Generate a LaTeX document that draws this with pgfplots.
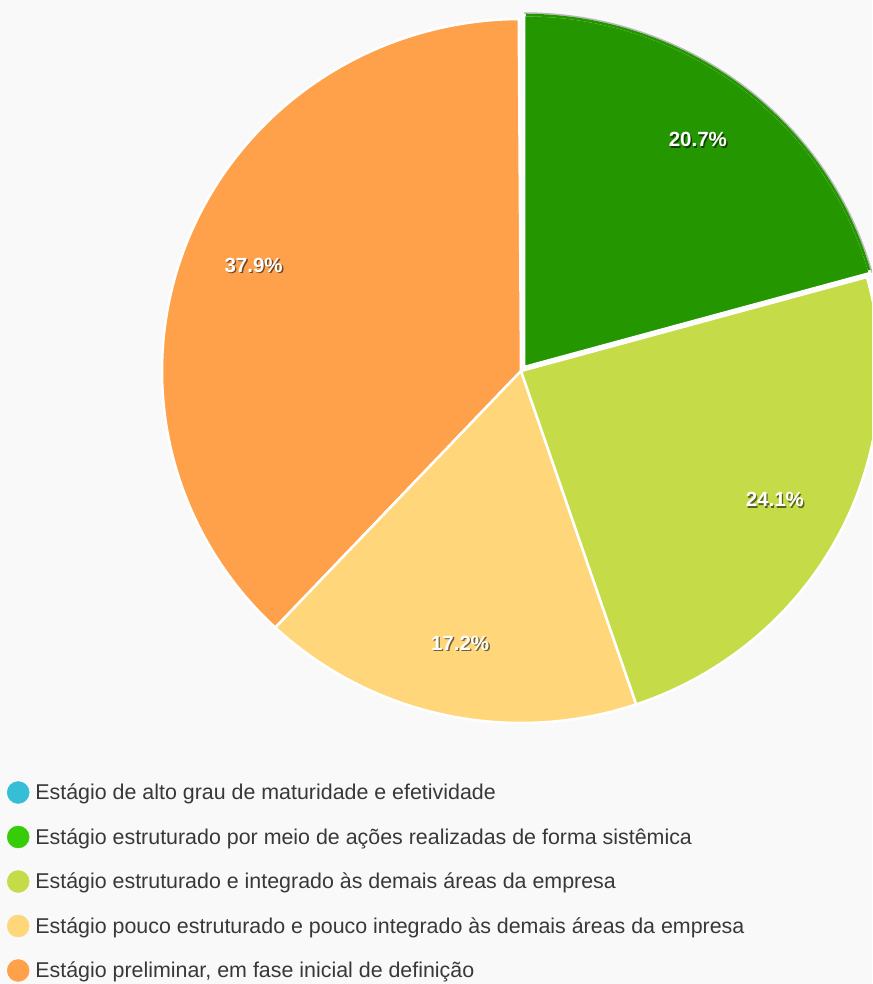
\documentclass[border=0pt]{standalone}
\usepackage{pgfplots}
\usepackage{pgfplotstable}
\pgfplotsset{compat=1.18}
\usepackage{fontspec}
\setmainfont{Liberation Sans}
\definecolor{bg}{HTML}{F9F9F9}
\definecolor{cCyan}{HTML}{35BED6}
\definecolor{cGreen}{HTML}{249600}
\definecolor{cGreenL}{HTML}{36CC08}
\definecolor{cYG}{HTML}{C5DC48}
\definecolor{cYel}{HTML}{FFD67A}
\definecolor{cOra}{HTML}{FFA14B}
\definecolor{txt}{HTML}{383838}
\pgfplotstableread{
idx pct
0 0
1 20.7
2 24.1
3 17.2
4 37.9
}\piedata
\begin{document}
\begin{tikzpicture}
\pgfplotstablegetelem{0}{pct}\of\piedata\let\pA\pgfplotsretval
\pgfplotstablegetelem{1}{pct}\of\piedata\let\pB\pgfplotsretval
\pgfplotstablegetelem{2}{pct}\of\piedata\let\pC\pgfplotsretval
\pgfplotstablegetelem{3}{pct}\of\piedata\let\pD\pgfplotsretval
\pgfplotstablegetelem{4}{pct}\of\piedata\let\pE\pgfplotsretval
\pgfmathsetmacro\aA{90-3.6*\pA}
\pgfmathsetmacro\aB{\aA-3.6*\pB}
\pgfmathsetmacro\aC{\aB-3.6*\pC}
\pgfmathsetmacro\aD{\aC-3.6*\pD}
\pgfmathsetmacro\aE{\aD-3.6*\pE}
\pgfmathsetmacro\mB{(\aA+\aB)/2}
\pgfmathsetmacro\mC{(\aB+\aC)/2}
\pgfmathsetmacro\mD{(\aC+\aD)/2}
\pgfmathsetmacro\mE{(\aD+\aE)/2}
\def\cx{521}\def\cy{613}\def\rx{359}\def\ry{352}
\pgfmathsetmacro\gx{\cx+5*cos(\mB)}
\pgfmathsetmacro\gy{\cy+5*sin(\mB)}
\pgfmathsetmacro\lxB{\gx+0.8*\rx*cos(\mB)}
\pgfmathsetmacro\lyB{\gy+0.8*\ry*sin(\mB)+3}
\pgfmathsetmacro\lxC{\cx+0.8*\rx*cos(\mC)}
\pgfmathsetmacro\lyC{\cy+0.8*\ry*sin(\mC)+3}
\pgfmathsetmacro\lxD{\cx+0.8*\rx*cos(\mD)}
\pgfmathsetmacro\lyD{\cy+0.8*\ry*sin(\mD)+3}
\pgfmathsetmacro\lxE{\cx+0.8*\rx*cos(\mE)}
\pgfmathsetmacro\lyE{\cy+0.8*\ry*sin(\mE)+3}
\useasboundingbox (0,0) rectangle (872pt,984pt);
\fill[bg] (0,0) rectangle (872pt,984pt);
\tikzset{lblS/.style={font=\bfseries\fontsize{20.5}{24}\selectfont,text=black,opacity=0.55},
  lblW/.style={font=\bfseries\fontsize{20.5}{24}\selectfont,text=white}}
\begin{axis}[x=1pt,y=1pt,xmin=0,xmax=872,ymin=0,ymax=984,hide axis,
  at={(0,0)},anchor=south west,
  legend style={at={(axis cs:7,203)},anchor=north west,draw=none,fill=none,
    inner sep=0pt,outer sep=0pt,row sep=19.5pt,column sep=6pt,
    font=\fontsize{21.4}{25}\selectfont,text=txt,
    cells={anchor=base west},
    nodes={inner sep=0pt,outer sep=0pt,text height=19pt,text depth=6pt}}]
% slices
\addplot[fill=cOra,draw=white,line width=2.5pt,line join=round,domain=\aE:\aD,samples=120,variable=\t,forget plot]
  ({\cx+\rx*cos(\t)},{\cy+\ry*sin(\t)}) -- (axis cs:\cx,\cy) -- cycle;
\addplot[fill=cYel,draw=white,line width=2.5pt,line join=round,domain=\aD:\aC,samples=80,variable=\t,forget plot]
  ({\cx+\rx*cos(\t)},{\cy+\ry*sin(\t)}) -- (axis cs:\cx,\cy) -- cycle;
\addplot[fill=cYG,draw=white,line width=2.5pt,line join=round,domain=\aC:\aB,samples=80,variable=\t,forget plot]
  ({\cx+\rx*cos(\t)},{\cy+\ry*sin(\t)}) -- (axis cs:\cx,\cy) -- cycle;
% selected green slice
\addplot[draw=black!28,line width=2.5pt,domain=\aB:\aA,samples=80,variable=\t,forget plot]
  ({\gx+(\rx+1.5)*cos(\t)},{\gy+(\ry+1.5)*sin(\t)});
\addplot[fill=cGreen,draw=white,line width=2.5pt,line join=round,domain=\aB:\aA,samples=80,variable=\t,forget plot]
  ({\gx+\rx*cos(\t)},{\gy+\ry*sin(\t)}) -- (axis cs:\gx,\gy) -- cycle;
\addplot[draw=cGreen,line width=2.6pt,domain=\aB+0.5:\aA-0.3,samples=80,variable=\t,forget plot]
  ({\gx+\rx*cos(\t)},{\gy+\ry*sin(\t)});
% labels
\node[lblS] at (axis cs:\lxB+1.3,\lyB-1.3) {\pB\%};
\node[lblW] at (axis cs:\lxB,\lyB) {\pB\%};
\node[lblS] at (axis cs:\lxC+1.3,\lyC-1.3) {\pC\%};
\node[lblW] at (axis cs:\lxC,\lyC) {\pC\%};
\node[lblS] at (axis cs:\lxD+1.3,\lyD-1.3) {\pD\%};
\node[lblW] at (axis cs:\lxD,\lyD) {\pD\%};
\node[lblS] at (axis cs:\lxE+1.3,\lyE-1.3) {\pE\%};
\node[lblW] at (axis cs:\lxE,\lyE) {\pE\%};
% legend
\addlegendimage{legend image code/.code={\fill[cCyan] (0pt,7.5pt) circle (11pt);}}
\addlegendentry{Estágio de alto grau de maturidade e efetividade}
\addlegendimage{legend image code/.code={\fill[cGreenL] (0pt,7.5pt) circle (11pt);}}
\addlegendentry{Estágio estruturado por meio de ações realizadas de forma sistêmica}
\addlegendimage{legend image code/.code={\fill[cYG] (0pt,7.5pt) circle (11pt);}}
\addlegendentry{Estágio estruturado e integrado às demais áreas da empresa}
\addlegendimage{legend image code/.code={\fill[cYel] (0pt,7.5pt) circle (11pt);}}
\addlegendentry{Estágio pouco estruturado e pouco integrado às demais áreas da empresa}
\addlegendimage{legend image code/.code={\fill[cOra] (0pt,7.5pt) circle (11pt);}}
\addlegendentry{Estágio preliminar, em fase inicial de definição}
\end{axis}
\end{tikzpicture}
\end{document}
